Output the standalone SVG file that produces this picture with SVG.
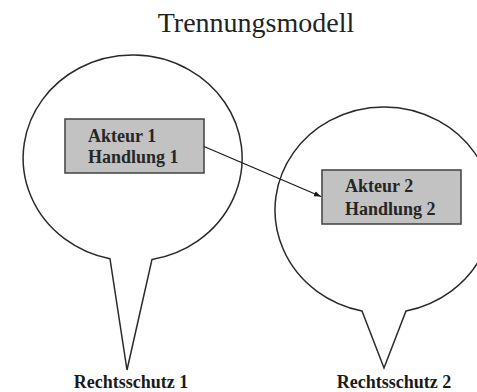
<svg xmlns="http://www.w3.org/2000/svg" width="477" height="392" viewBox="0 0 477 392">
<style>
.bubble{fill:none;stroke:#2a2a2a;stroke-width:1.5;stroke-linejoin:miter}
.box{fill:#c2c2c2;stroke:#4a4a4a;stroke-width:1.6}
.bt{font-family:"Liberation Serif",serif;font-weight:bold;font-size:18px;fill:#262626}
.lbl{font-family:"Liberation Serif",serif;font-weight:bold;font-size:18px;fill:#1a1a1a;text-anchor:middle}
.title{font-family:"Liberation Serif",serif;font-size:28px;fill:#222;text-anchor:middle}
.conn{stroke:#1a1a1a;stroke-width:1.3;fill:none}
</style>
<defs>
<marker id="arr" viewBox="0 0 10 10" refX="10" refY="5" markerWidth="7" markerHeight="7" markerUnits="userSpaceOnUse" orient="auto">
<path d="M0,1 L10,5 L0,9 Z" fill="#1a1a1a"/>
</marker>
</defs>
<rect width="477" height="392" fill="#fff"/>
<text class="title" x="256" y="32">Trennungsmodell</text>
<g id="bubble1">
<path class="bubble" d="M110,258.8 L127,370 L152,259.4 A109.5 103 0 1 0 110,258.8 Z"/>
<text class="lbl" x="131" y="388">Rechtsschutz 1</text>
</g>
<g id="bubble2">
<path class="bubble" d="M362,310.9 L384,368 L406,310.9 A109 103 0 1 0 362,310.9 Z"/>
<text class="lbl" x="394" y="388">Rechtsschutz 2</text>
</g>
<g id="node1">
<rect class="box" x="65" y="119" width="139" height="54"/>
<text class="bt" x="88" y="141.5">Akteur 1</text>
<text class="bt" x="88" y="163">Handlung 1</text>
</g>
<g id="node2">
<rect class="box" x="322" y="170" width="139" height="54"/>
<text class="bt" x="345" y="191.5">Akteur 2</text>
<text class="bt" x="345" y="215">Handlung 2</text>
</g>
<g id="connectors">
<line class="conn" x1="204" y1="146.5" x2="321" y2="196.5" marker-end="url(#arr)"/>
</g>
</svg>
